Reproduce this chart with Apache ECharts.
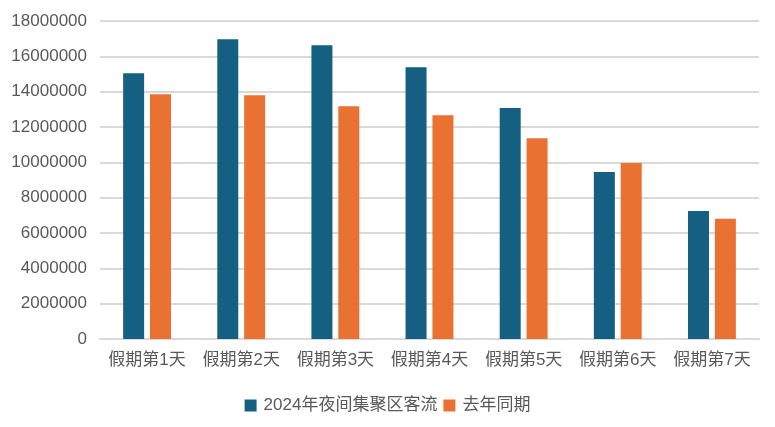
<!DOCTYPE html>
<html>
<head>
<meta charset="utf-8">
<script src="https://cdn.jsdelivr.net/npm/echarts@6/dist/echarts.min.js"></script>
<style>
  html, body { margin: 0; padding: 0; background: #fff; }
  #chart { width: 775px; height: 427px; }
</style>
</head>
<body>
<div id="chart"></div>
<script>
const categories = ['假期第1天', '假期第2天', '假期第3天', '假期第4天', '假期第5天', '假期第6天', '假期第7天']
const seriesNames = ['2024年夜间集聚区客流', '去年同期']
const thisYear = [15040000, 16970000, 16630000, 15380000, 13070000, 9450000, 7250000]
const lastYear = [13860000, 13800000, 13180000, 12670000, 11370000, 9960000, 6800000]

const font = '"Liberation Sans", "Noto Sans CJK SC", sans-serif'
const chart = echarts.init(document.getElementById('chart'))
chart.setOption({
  animation: false,
  textStyle: { fontFamily: font },
  grid: { left: 100, right: 16, top: 21, bottom: 88 },
  legend: {
    bottom: 8,
    left: 'center',
    itemWidth: 12,
    itemHeight: 12,
    itemGap: 6,
    icon: 'rect',
    textStyle: { fontSize: 17, color: '#595959', fontFamily: font, padding: [0, 0, 0, 2] },
    data: seriesNames
  },
  xAxis: {
    type: 'category',
    data: categories,
    axisLine: { lineStyle: { color: '#d9d9d9', width: 2 } },
    axisTick: { show: false },
    axisLabel: { interval: 0, fontSize: 17, color: '#595959', margin: 13, fontFamily: font }
  },
  yAxis: {
    type: 'value',
    min: 0,
    max: 18000000,
    interval: 2000000,
    axisLine: { show: false },
    axisTick: { show: false },
    axisLabel: { fontSize: 17, color: '#595959', margin: 13, fontFamily: font, formatter: v => String(v) },
    splitLine: { lineStyle: { color: '#d9d9d9', width: 2 } }
  },
  series: [
    {
      name: seriesNames[0],
      type: 'bar',
      data: thisYear,
      barWidth: 21,
      barGap: '28%',
      itemStyle: { color: '#156082' }
    },
    {
      name: seriesNames[1],
      type: 'bar',
      data: lastYear,
      barWidth: 21,
      itemStyle: { color: '#e97132' }
    }
  ]
})
</script>
</body>
</html>
